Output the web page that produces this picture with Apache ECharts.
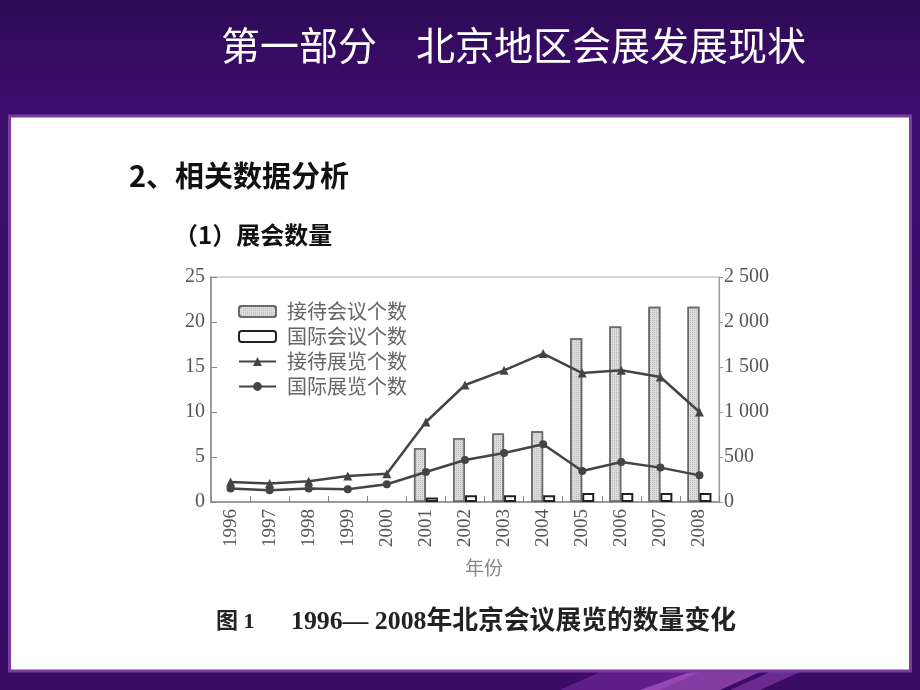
<!DOCTYPE html>
<html><head><meta charset="utf-8">
<script src="https://cdn.jsdelivr.net/npm/echarts@6/dist/echarts.min.js"></script>
<style>html,body{margin:0;padding:0;background:#3a0c66;}#c{width:920px;height:690px;}</style>
</head><body><div id="c"></div>
<script>
const years = ['1996','1997','1998','1999','2000','2001','2002','2003','2004','2005','2006','2007','2008'];
const meetingsHosted = [null,null,null,null,null,6.0,7.1,7.6,7.85,18.2,19.5,21.7,21.7];
const meetingsIntl = [null,null,null,null,null,0.5,0.75,0.75,0.75,1.0,1.0,1.0,1.0];
const exhibitionsHosted = [222,205,230,289,315,889,1300,1463,1649,1433,1463,1389,1000];
const exhibitionsIntl = [149,130,149,141,197,333,467,544,641,344,444,382,296];
const leftTicks = [0,5,10,15,20,25];
const rightTicks = [0,500,1000,1500,2000,2500];

const serif = '"Liberation Serif","Noto Sans CJK SC",serif';
const chart = echarts.init(document.getElementById('c'));
chart.setOption({
  animation:false,
  graphic:[
    {type:'rect',silent:true,z:-10,shape:{x:0,y:0,width:920,height:690},
     style:{fill:new echarts.graphic.LinearGradient(0,0,0,1,[{offset:0,color:'#2f0a55'},{offset:0.15,color:'#3d0d6e'},{offset:1,color:'#3a0c66'}])}},
    {type:'polygon',silent:true,z:-9,shape:{points:[[560,690],[600,672],[700,672],[660,690]]},style:{fill:'rgba(170,70,200,0.35)'}},
    {type:'polygon',silent:true,z:-9,shape:{points:[[640,690],[690,672],[760,672],[720,690]]},style:{fill:'rgba(220,120,235,0.45)'}},
    {type:'polygon',silent:true,z:-9,shape:{points:[[730,690],[770,672],[800,672],[760,690]]},style:{fill:'rgba(200,100,220,0.35)'}},
    {type:'rect',silent:true,z:-8,shape:{x:9.5,y:116,width:901,height:555},style:{fill:'#ffffff',stroke:'#7b3ba1',lineWidth:3}},
    {type:'text',silent:true,z:5,style:{text:'第一部分　北京地区会展发展现状',x:221,y:45,fill:'#ffffff',font:'39px "Noto Sans CJK SC"',align:'left',verticalAlign:'middle'}},
    {type:'text',silent:true,z:5,style:{text:'2、相关数据分析',x:129,y:176,fill:'#111111',font:'bold 29px "Noto Sans CJK SC"',align:'left',verticalAlign:'middle'}},
    {type:'text',silent:true,z:5,style:{text:'（1）展会数量',x:174,y:235,fill:'#111111',font:'bold 24px "Noto Sans CJK SC"',align:'left',verticalAlign:'middle'}},
    {type:'text',silent:true,z:5,style:{text:'年份',x:484,y:568,fill:'#888888',font:'19px "Noto Sans CJK SC"',align:'center',verticalAlign:'middle'}},
    {type:'text',silent:true,z:5,style:{text:'图 1',x:216,y:622,fill:'#222222',font:'bold 22px "Liberation Serif","Noto Sans CJK SC"',align:'left',verticalAlign:'middle'}},
    {type:'text',silent:true,z:5,style:{text:'1996— 2008年北京会议展览的数量变化',x:291,y:622,fill:'#222222',font:'bold 25.8px "Liberation Serif","Noto Sans CJK SC"',align:'left',verticalAlign:'middle'}}
  ],
  grid:{left:211,right:201,top:277,bottom:188,show:true,borderColor:'#aaaaaa',borderWidth:1,backgroundColor:'transparent'},
  legend:{
    orient:'vertical',left:233,top:296,itemWidth:37,itemHeight:11,itemGap:4,
    textStyle:{fontFamily:'"Noto Sans CJK SC"',fontSize:20,color:'#666666',lineHeight:21,padding:[0,0,0,6]},
    data:[{name:'接待会议个数',icon:'roundRect'},{name:'国际会议个数',icon:'roundRect'},{name:'接待展览个数'},{name:'国际展览个数'}]
  },
  xAxis:{type:'category',data:years,
    axisLine:{lineStyle:{color:'#888888',width:1.5}},
    axisTick:{show:true,inside:true,length:6,lineStyle:{color:'#888888'}},
    axisLabel:{rotate:90,margin:7,fontFamily:serif,fontSize:19,color:'#555555'}},
  yAxis:[
    {type:'value',min:0,max:25,interval:5,position:'left',splitLine:{show:false},
     axisLine:{show:true,lineStyle:{color:'#888888',width:1.5}},
     axisTick:{show:true,inside:true,length:6,lineStyle:{color:'#888888'}},
     axisLabel:{fontFamily:serif,fontSize:20,color:'#555555',margin:6}},
    {type:'value',min:0,max:2500,interval:500,position:'right',splitLine:{show:false},
     axisLine:{show:true,lineStyle:{color:'#999999',width:1.2}},
     axisTick:{show:true,inside:false,length:4,lineStyle:{color:'#999999'}},
     axisLabel:{fontFamily:serif,fontSize:20,color:'#555555',margin:5,
       formatter:v=>String(v).replace(/\B(?=(\d{3})+(?!\d))/g,' ')}}
  ],
  series:[
    {name:'接待会议个数',type:'bar',yAxisIndex:0,data:meetingsHosted,barWidth:12,barGap:'0%',
     itemStyle:{color:'#dcdcdc',borderColor:'#6a6a6a',borderWidth:1.5,
       decal:{symbol:'rect',symbolSize:1,dashArrayX:[1,1],dashArrayY:[1,1],color:'rgba(0,0,0,0.14)'}}},
    {name:'国际会议个数',type:'bar',yAxisIndex:0,data:meetingsIntl,barWidth:12,barGap:'0%',
     itemStyle:{color:'#ffffff',borderColor:'#222222',borderWidth:2}},
    {name:'接待展览个数',type:'line',yAxisIndex:1,data:exhibitionsHosted,symbol:'triangle',symbolSize:9,
     lineStyle:{color:'#444444',width:2.5},itemStyle:{color:'#444444'}},
    {name:'国际展览个数',type:'line',yAxisIndex:1,data:exhibitionsIntl,symbol:'circle',symbolSize:8,
     lineStyle:{color:'#444444',width:2.5},itemStyle:{color:'#444444'}}
  ]
});
</script></body></html>
